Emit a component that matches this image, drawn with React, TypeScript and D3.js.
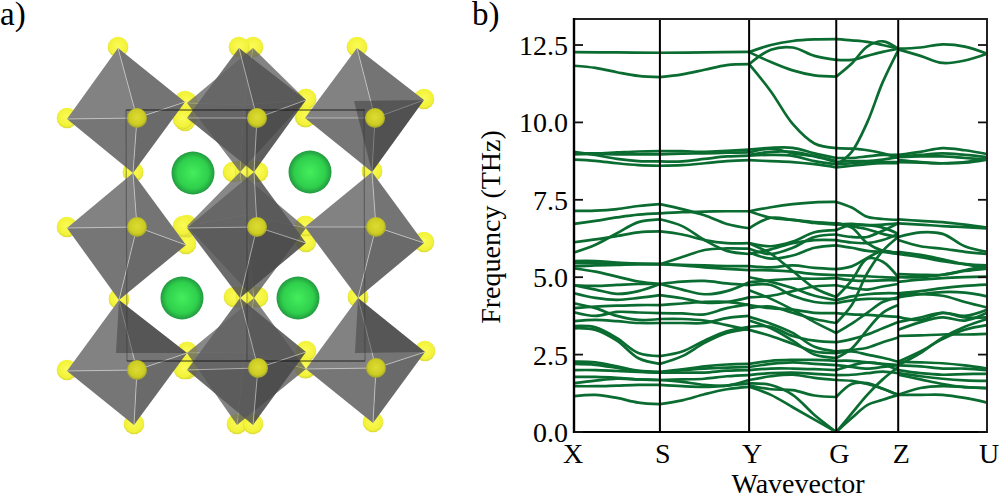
import React from "react";
import * as d3 from "d3";

type Pt = [number, number];
type Octa = { top: Pt; left: Pt; right: Pt; bottom: Pt; front: Pt };

const WIDTH = 1000;
const HEIGHT = 495;

// band structure ---------------------------------------------------------
const kLabels = ["X", "S", "Y", "G", "Z", "U"];
const kPositions = [0, 0.208, 0.424, 0.635, 0.785, 1];
const freqTicks = [0, 2.5, 5, 7.5, 10, 12.5];

// each row is one band, evenly sampled along the segment (THz)
const bandsXS = [
  [12.27, 12.26, 12.25],
  [11.83, 11.76, 11.62, 11.5, 11.46],
  [9.0, 9.0, 9.03, 9.06, 9.07],
  [8.97, 8.98, 8.97, 8.97, 8.97],
  [9.05, 8.95, 8.82, 8.75, 8.74],
  [8.8, 8.76, 8.68, 8.62, 8.6],
  [7.14, 7.15, 7.2, 7.3, 7.36],
  [6.72, 6.82, 6.93, 7.02, 7.06],
  [5.8, 6.05, 6.42, 6.78, 6.87],
  [6.13, 6.22, 6.33, 6.45, 6.48],
  [5.52, 5.52, 5.47, 5.44, 5.42],
  [5.45, 5.45, 5.43, 5.42, 5.42],
  [5.35, 5.38, 5.4, 5.42, 5.42],
  [5.28, 5.18, 5.02, 4.86, 4.78],
  [4.74, 4.72, 4.75, 4.78, 4.78],
  [4.74, 4.6, 4.46, 4.55, 4.78],
  [4.48, 4.33, 4.27, 4.33, 4.42],
  [4.16, 4.0, 3.75, 3.62, 3.65],
  [4.0, 4.05, 4.08, 4.1, 4.1],
  [3.87, 3.75, 3.88, 3.86, 3.84],
  [3.58, 3.62, 3.58, 3.52, 3.52],
  [3.42, 3.38, 3.03, 2.55, 2.45],
  [3.35, 3.3, 2.95, 2.38, 2.2],
  [2.27, 2.25, 2.12, 1.98, 1.94],
  [2.2, 2.17, 2.07, 1.96, 1.92],
  [2.0, 2.0, 1.97, 1.94, 1.92],
  [1.78, 1.78, 1.75, 1.7, 1.68],
  [1.58, 1.66, 1.72, 1.7, 1.68],
  [1.48, 1.48, 1.5, 1.52, 1.52],
  [1.16, 1.2, 1.1, 0.95, 0.9],
];

const bandsSY = [
  [12.25, 12.26, 12.28],
  [11.46, 11.55, 11.7, 11.85, 11.88],
  [9.07, 9.07, 9.05, 9.08, 9.12],
  [8.97, 8.99, 9.0, 9.02, 9.03],
  [8.74, 8.74, 8.82, 8.9, 8.93],
  [8.6, 8.62, 8.68, 8.75, 8.78],
  [7.36, 7.2, 7.0, 6.72, 6.58],
  [7.06, 7.1, 7.12, 7.13, 7.13],
  [6.87, 6.65, 6.2, 5.85, 5.75],
  [6.48, 6.38, 6.2, 6.1, 6.1],
  [5.42, 5.65, 5.88, 5.93, 5.92],
  [5.42, 5.38, 5.32, 5.27, 5.23],
  [5.42, 5.4, 5.38, 5.36, 5.36],
  [4.78, 4.86, 4.88, 4.8, 4.74],
  [4.78, 4.6, 4.45, 4.55, 4.84],
  [4.42, 4.32, 4.18, 4.2, 4.35],
  [4.1, 4.15, 4.2, 4.2, 4.1],
  [3.84, 3.83, 3.8, 4.0, 4.12],
  [3.65, 3.65, 3.6, 3.45, 3.3],
  [3.52, 3.52, 3.52, 3.68, 3.75],
  [2.45, 2.6, 2.95, 3.25, 3.4],
  [2.2, 2.45, 2.88, 3.2, 3.33],
  [1.94, 2.02, 2.12, 2.18, 2.2],
  [1.92, 2.0, 2.05, 2.08, 2.1],
  [1.92, 1.92, 1.92, 1.98, 2.0],
  [1.68, 1.7, 1.72, 1.8, 1.84],
  [1.68, 1.62, 1.52, 1.5, 1.68],
  [1.52, 1.48, 1.46, 1.5, 1.57],
  [0.9, 1.02, 1.22, 1.38, 1.46],
];

const bandsYG = [
  [12.27, 12.5, 12.63, 12.68, 12.69],
  [11.88, 12.35, 12.42, 12.15, 12.02],
  [12.27, 11.95, 11.68, 11.52, 11.48],
  [11.88, 11.0, 9.95, 9.32, 9.17],
  [9.12, 9.18, 9.18, 9.0, 8.85],
  [9.03, 9.15, 9.0, 8.9, 8.72],
  [8.93, 8.95, 8.92, 8.75, 8.65],
  [8.78, 8.75, 8.72, 8.65, 8.55],
  [8.95, 9.05, 9.05, 8.92, 8.75],
  [7.13, 7.26, 7.36, 7.42, 7.43],
  [7.13, 6.92, 6.85, 6.78, 6.74],
  [6.58, 6.92, 6.85, 6.75, 6.7],
  [6.1, 6.0, 6.15, 6.45, 6.52],
  [5.92, 5.75, 5.95, 6.3, 6.38],
  [5.75, 5.9, 6.1, 6.2, 6.2],
  [5.8, 5.6, 5.7, 5.95, 6.03],
  [6.1, 5.75, 5.2, 4.65, 4.36],
  [5.36, 5.32, 5.38, 5.3, 5.26],
  [5.23, 5.22, 5.18, 5.1, 5.07],
  [5.0, 4.85, 4.65, 4.4, 4.26],
  [4.74, 4.75, 4.4, 4.2, 4.16],
  [4.84, 4.9, 4.95, 4.95, 4.97],
  [4.58, 4.3, 3.95, 3.55, 3.2],
  [4.35, 4.4, 4.55, 4.7, 4.74],
  [4.1, 4.0, 3.95, 3.85, 3.84],
  [4.0, 4.05, 3.85, 3.65, 3.52],
  [3.72, 3.5, 3.2, 2.75, 2.6],
  [3.6, 3.35, 2.95, 2.5, 2.39],
  [3.4, 3.4, 3.1, 2.95, 2.9],
  [3.3, 3.1, 2.85, 2.6, 2.55],
  [2.2, 2.3, 2.33, 2.33, 2.3],
  [2.1, 2.2, 2.25, 2.2, 2.16],
  [2.0, 2.05, 2.05, 2.03, 2.0],
  [1.84, 1.9, 1.92, 1.88, 1.84],
  [1.68, 1.8, 1.85, 1.75, 1.68],
  [1.57, 1.52, 1.2, 0.55, 0],
  [1.46, 1.2, 0.8, 0.4, 0],
  [1.5, 1.38, 1.35, 1.18, 1.13],
];

const bandsGZ = [
  [12.69, 12.65, 12.6, 12.5, 12.38],
  [12.02, 12.02, 12.15, 12.28, 12.38],
  [11.48, 11.9, 12.45, 12.62, 12.38],
  [9.17, 9.15, 9.1, 9.0, 8.85],
  [8.62, 9.05, 10.0, 11.3, 12.33],
  [8.85, 8.85, 8.9, 8.95, 8.95],
  [8.72, 8.75, 8.75, 8.8, 8.88],
  [8.65, 8.68, 8.72, 8.72, 8.72],
  [8.55, 8.6, 8.65, 8.68, 8.68],
  [7.43, 7.25, 6.95, 6.88, 6.85],
  [6.7, 6.72, 6.68, 6.7, 6.74],
  [6.74, 6.65, 6.55, 6.4, 6.3],
  [6.52, 6.7, 6.68, 6.6, 6.4],
  [6.38, 6.3, 6.3, 6.5, 6.74],
  [6.2, 6.12, 6.1, 6.2, 6.4],
  [6.03, 5.95, 5.85, 5.82, 5.8],
  [6.74, 6.6, 6.1, 5.85, 5.75],
  [5.26, 5.35, 5.62, 5.85, 5.75],
  [3.52, 4.1, 5.13, 5.85, 6.3],
  [4.36, 4.9, 5.6, 5.5, 5.0],
  [5.07, 5.05, 5.03, 5.0, 4.98],
  [4.97, 4.9, 4.88, 4.9, 4.9],
  [4.74, 4.65, 4.6, 4.7, 4.78],
  [4.26, 4.38, 4.45, 4.48, 4.48],
  [4.16, 4.25, 4.3, 4.3, 4.3],
  [3.84, 3.8, 3.78, 3.75, 3.72],
  [3.2, 3.5, 3.85, 4.2, 4.35],
  [2.9, 3.0, 3.15, 3.35, 3.55],
  [2.6, 2.65, 2.72, 2.9, 3.05],
  [2.39, 2.7, 3.3, 3.85, 4.1],
  [2.55, 2.6, 2.5, 2.4, 2.27],
  [2.3, 2.3, 2.25, 2.2, 2.16],
  [2.16, 2.1, 2.05, 2.1, 2.16],
  [2.0, 2.15, 2.25, 2.18, 2.0],
  [1.84, 1.85, 1.9, 1.95, 1.9],
  [1.68, 1.65, 1.55, 1.4, 1.2],
  [1.13, 1.55, 1.58, 1.4, 1.2],
  [0, 0.6, 1.2, 1.7, 2.1],
  [0, 0.45, 0.87, 1.04, 1.2],
];

const bandsZU = [
  [12.38, 12.42, 12.52, 12.45, 12.22],
  [12.36, 12.15, 11.92, 12.0, 12.22],
  [8.95, 9.05, 9.17, 9.1, 8.98],
  [8.9, 8.95, 9.0, 8.95, 8.88],
  [8.88, 8.9, 8.9, 8.85, 8.8],
  [8.78, 8.72, 8.68, 8.7, 8.8],
  [8.72, 8.7, 8.68, 8.72, 8.85],
  [6.87, 6.82, 6.78, 6.7, 6.6],
  [6.74, 6.7, 6.65, 6.62, 6.58],
  [6.3, 6.45, 6.4, 6.0, 5.82],
  [6.2, 6.0, 5.92, 5.82, 5.75],
  [5.82, 5.72, 5.58, 5.42, 5.3],
  [5.75, 5.65, 5.52, 5.42, 5.38],
  [5.1, 5.08, 5.08, 5.2, 5.28],
  [5.0, 5.0, 5.08, 5.22, 5.38],
  [4.85, 4.92, 4.97, 5.0, 5.02],
  [4.48, 4.55, 4.65, 4.72, 4.76],
  [4.35, 4.45, 4.52, 4.5, 4.38],
  [4.42, 4.45, 4.4, 4.2, 4.02],
  [3.72, 3.62, 3.85, 3.75, 3.95],
  [3.55, 3.7, 3.85, 3.7, 3.7],
  [3.3, 3.55, 3.7, 3.6, 3.85],
  [3.1, 3.12, 3.15, 3.15, 3.17],
  [2.27, 2.6, 3.0, 3.3, 3.45],
  [2.16, 2.55, 3.05, 3.4, 3.65],
  [2.27, 2.25, 2.22, 2.15, 2.05],
  [2.15, 2.12, 2.05, 2.05, 2.0],
  [2.0, 1.9, 1.85, 1.87, 1.88],
  [1.9, 1.8, 1.72, 1.67, 1.65],
  [1.85, 1.7, 1.55, 1.45, 1.42],
  [1.2, 1.42, 1.48, 1.45, 1.42],
  [1.2, 1.2, 1.2, 1.1, 0.95],
];

const segments = [bandsXS, bandsSY, bandsYG, bandsGZ, bandsZU];

// crystal structure ------------------------------------------------------
const sideOcta: Octa[] = [
  { top: [118, 48], left: [67, 119], right: [185, 102], bottom: [133, 173], front: [137, 118] },
  { top: [133, 173], left: [67, 228], right: [186, 245], bottom: [119, 300], front: [137, 227] },
  { top: [119, 300], left: [67, 371], right: [187, 353], bottom: [134, 425], front: [137, 370] },
  { top: [357, 48], left: [305, 118], right: [424, 100], bottom: [372, 172], front: [375, 118] },
  { top: [372, 172], left: [305, 227], right: [424, 243], bottom: [358, 298], front: [376, 227] },
  { top: [358, 298], left: [306, 369], right: [425, 352], bottom: [373, 423], front: [376, 368] },
];
const backOcta: Octa[] = [
  { top: [253, 48], left: [187, 103], right: [306, 100], bottom: [240, 172], front: [244, 105] },
  { top: [240, 172], left: [187, 226], right: [306, 228], bottom: [254, 298], front: [245, 215] },
  { top: [254, 298], left: [187, 353], right: [306, 369], bottom: [237, 425], front: [245, 352] },
];
const centerOcta: Octa[] = [
  { top: [239, 48], left: [187, 118], right: [306, 100], bottom: [254, 172], front: [257, 118] },
  { top: [254, 172], left: [187, 228], right: [306, 243], bottom: [240, 298], front: [257, 227] },
  { top: [240, 298], left: [187, 370], right: [306, 352], bottom: [253, 425], front: [258, 368] },
];
const shadeFaces: Pt[][] = [
  [[354, 101], [424, 100], [372, 172]],
  [[119, 300], [187, 353], [116, 353]],
  [[358, 298], [425, 352], [355, 353]],
];
const extraAtoms: Pt[] = [
  [185, 122], [183, 120], [185, 228], [183, 227], [306, 118], [306, 227],
  [305, 369], [186, 367], [184, 370], [233, 173], [245, 173], [258, 173],
  [234, 298], [246, 298], [258, 298],
];
const greenAtoms: Pt[] = [[193, 173], [310, 172], [182, 298], [298, 298]];
const boxLines: [Pt, Pt, string, number][] = [
  [[126, 110], [365, 110], "#111", 0.85],
  [[127, 361], [365, 361], "#111", 0.85],
  [[126, 110], [127, 361], "#333", 0.45],
  [[364, 110], [365, 361], "#333", 0.45],
  [[247, 110], [247, 361], "#222", 0.4],
];

const x = d3.scaleLinear().domain([0, 1]).range([574, 987]);
const y = d3.scaleLinear().domain([0, 13.34]).range([432, 19]);
const poly = d3.line<Pt>().curve(d3.curveLinearClosed);

function OctaFaces({ o, shades, opacity, edge }: { o: Octa; shades: string[]; opacity: number; edge: number }) {
  const faces: Pt[][] = [
    [o.top, o.left, o.front],
    [o.top, o.right, o.front],
    [o.left, o.bottom, o.front],
    [o.right, o.bottom, o.front],
  ];
  return (
    <g>
      {faces.map((f, i) => (
        <path key={i} d={poly(f) ?? ""} fill={shades[i]} fillOpacity={opacity} />
      ))}
      {[o.top, o.left, o.right, o.bottom].map((p, i) => (
        <line key={i} x1={o.front[0]} y1={o.front[1]} x2={p[0]} y2={p[1]} stroke="#d0d0d0" strokeWidth={1} strokeOpacity={edge} />
      ))}
    </g>
  );
}

export default function App() {
  const vertices = [...sideOcta, ...backOcta, ...centerOcta].flatMap((o) => [o.top, o.left, o.right, o.bottom]);
  const frontAtoms = [...sideOcta, ...centerOcta].map((o) => o.front);
  const serif = "'Liberation Serif', serif";

  return (
    <svg width={WIDTH} height={HEIGHT} style={{ position: "absolute", left: 0, top: 0, background: "#fff" }} fontFamily={serif}>
      <defs>
        <radialGradient id="sulfur" cx="50%" cy="45%" r="55%">
          <stop offset="0%" stopColor="#fbfb58" />
          <stop offset="78%" stopColor="#f2f238" />
          <stop offset="100%" stopColor="#d8d83a" />
        </radialGradient>
        <radialGradient id="sulfurFront" cx="50%" cy="46%" r="54%">
          <stop offset="0%" stopColor="#dcdc34" />
          <stop offset="72%" stopColor="#cccc22" />
          <stop offset="100%" stopColor="#a0a030" />
        </radialGradient>
        <radialGradient id="cation" cx="50%" cy="50%" r="50%">
          <stop offset="0%" stopColor="#44ee5c" />
          <stop offset="72%" stopColor="#2fcf4c" />
          <stop offset="100%" stopColor="#229a40" />
        </radialGradient>
      </defs>

      {/* panel a */}
      <text x={0} y={25} fontSize={33}>a)</text>
      {[...vertices, ...extraAtoms].map((p, i) => (
        <circle key={i} cx={p[0]} cy={p[1] - 1} r={10.3} fill="url(#sulfur)" />
      ))}
      {greenAtoms.map((p, i) => (
        <circle key={i} cx={p[0]} cy={p[1]} r={21.5} fill="url(#cation)" />
      ))}
      {sideOcta.map((o, i) => (
        <OctaFaces key={i} o={o} shades={["#828282", "#747474", "#767676", "#6a6a6a"]} opacity={1} edge={0.7} />
      ))}
      {shadeFaces.map((f, i) => (
        <path key={i} d={poly(f) ?? ""} fill="#333" fillOpacity={0.45} />
      ))}
      {backOcta.map((o, i) => (
        <OctaFaces key={i} o={o} shades={["#6a6a6a", "#646464", "#646464", "#5a5a5a"]} opacity={0.8} edge={0.25} />
      ))}
      {centerOcta.map((o, i) => (
        <OctaFaces key={i} o={o} shades={["#626262", "#545454", "#565656", "#484848"]} opacity={0.88} edge={0.65} />
      ))}
      {boxLines.map(([a, b, c, op], i) => (
        <line key={i} x1={a[0]} y1={a[1]} x2={b[0]} y2={b[1]} stroke={c} strokeOpacity={op} strokeWidth={1.2} />
      ))}
      {frontAtoms.map((p, i) => (
        <circle key={i} cx={p[0]} cy={p[1]} r={10} fill="url(#sulfurFront)" />
      ))}

      {/* panel b */}
      <text x={472} y={25} fontSize={33}>b)</text>
      {segments.map((bands, s) =>
        bands.map((vals, b) => {
          const x0 = kPositions[s];
          const x1 = kPositions[s + 1];
          const line = d3
            .line<number>()
            .x((_, i) => x(x0 + ((x1 - x0) * i) / (vals.length - 1)))
            .y((d) => y(d))
            .curve(d3.curveCatmullRom.alpha(0.5));
          return <path key={`${s}-${b}`} d={line(vals) ?? ""} fill="none" stroke="#0a6c30" strokeWidth={2.7} />;
        })
      )}
      {kPositions.slice(1, -1).map((k) => (
        <line key={k} x1={x(k)} x2={x(k)} y1={19} y2={432} stroke="#000" strokeWidth={2} />
      ))}
      <rect x={574} y={19} width={413} height={413} fill="none" stroke="#222" strokeWidth={2} />
      <line x1={574} x2={574} y1={18} y2={433} stroke="#000" strokeWidth={2.4} />
      <line x1={574} x2={987} y1={432} y2={432} stroke="#000" strokeWidth={2.2} />
      {freqTicks.map((t) => (
        <g key={t}>
          <line x1={574} x2={583} y1={y(t)} y2={y(t)} stroke="#111" strokeWidth={1.8} />
          <line x1={978} x2={987} y1={y(t)} y2={y(t)} stroke="#111" strokeWidth={1.8} />
          <text x={568} y={y(t) + 10} fontSize={28} textAnchor="end">{t.toFixed(1)}</text>
        </g>
      ))}
      {kLabels.map((l, i) => (
        <text key={l} x={x(kPositions[i]) + (i === 0 ? -1 : i === 5 ? 2 : 3)} y={463} fontSize={28} textAnchor="middle">{l}</text>
      ))}
      <text x={798} y={493} fontSize={28} textAnchor="middle">Wavevector</text>
      <text transform="translate(500,227) rotate(-90)" fontSize={28} textAnchor="middle">Frequency (THz)</text>
    </svg>
  );
}
